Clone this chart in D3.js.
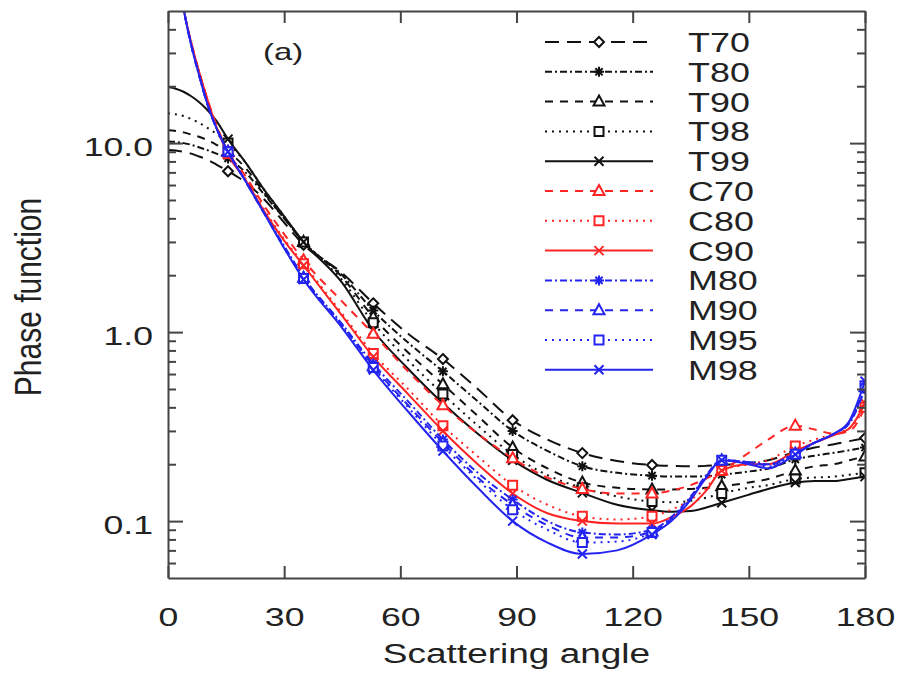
<!DOCTYPE html>
<html><head><meta charset="utf-8">
<script src="https://cdn.jsdelivr.net/npm/d3@7"></script>
<style>body{margin:0;background:#fff}</style>
</head><body><svg id="c" width="900" height="677"></svg>
<script>
// ---- data ----
const angles = [0,2,4,6,8,10,12.5,15.5,20,25,30,35,45,53,62,71,80,89,98,107,116,125,130,135,139,143,150,155,162,167,172,176,180];
const markerAngles = [15.5,35,53,71,89,107,125,143,162,180];
const T70 = [9.2,9.15,9.0,8.8,8.5,8.2,7.7,7.1,6.2,5.0,3.8,2.9,2.05,1.42,0.98,0.72,0.5,0.342,0.27,0.229,0.208,0.198,0.196,0.195,0.196,0.198,0.203,0.21,0.232,0.245,0.255,0.265,0.275];
const T80 = [10.2,10.15,10.0,9.8,9.5,9.2,8.8,8.3,7.0,5.3,4.0,3.0,2.0,1.3,0.88,0.62,0.43,0.30,0.235,0.195,0.18,0.174,0.172,0.172,0.173,0.176,0.183,0.19,0.212,0.222,0.23,0.237,0.245];
const T90 = [11.7,11.6,11.4,11.1,10.8,10.4,9.8,9.0,7.4,5.4,4.0,3.0,1.95,1.2,0.78,0.53,0.36,0.245,0.19,0.16,0.15,0.147,0.147,0.148,0.15,0.153,0.16,0.167,0.185,0.195,0.2,0.21,0.22];
const T98 = [14.4,14.2,13.9,13.4,12.8,12.1,11.2,10.0,7.9,5.6,4.1,3.0,1.88,1.12,0.71,0.47,0.32,0.225,0.175,0.15,0.135,0.127,0.126,0.128,0.133,0.14,0.15,0.155,0.167,0.17,0.172,0.176,0.18];
const T99 = [19.8,19.4,18.7,17.7,16.5,15.1,13.1,10.5,7.9,5.6,4.1,3.0,1.82,1.02,0.64,0.42,0.29,0.21,0.165,0.141,0.122,0.114,0.112,0.113,0.118,0.125,0.138,0.148,0.16,0.163,0.163,0.167,0.172];
const C70 = [200,100,52,34,24,17.5,12.5,9.0,6.7,4.6,3.3,2.4,1.45,0.98,0.62,0.41,0.29,0.215,0.17,0.148,0.14,0.14,0.145,0.155,0.168,0.185,0.23,0.27,0.32,0.305,0.29,0.3,0.4];
const C80 = [200,100,52,34,24,17.5,12.3,8.8,6.5,4.4,3.1,2.3,1.25,0.77,0.5,0.32,0.22,0.155,0.122,0.106,0.102,0.106,0.115,0.13,0.15,0.185,0.2,0.21,0.25,0.27,0.29,0.31,0.4];
const C90 = [200,100,52,34,24,17.5,12.2,8.7,6.4,4.3,3.05,2.25,1.22,0.74,0.47,0.30,0.2,0.14,0.11,0.1,0.097,0.097,0.105,0.12,0.145,0.185,0.2,0.2,0.235,0.26,0.285,0.31,0.42];
const M80 = [200,100,52,33,23,16.5,12,9.0,6.3,4.2,2.85,1.96,1.1,0.68,0.43,0.27,0.18,0.13,0.1,0.087,0.085,0.09,0.105,0.135,0.175,0.21,0.205,0.2,0.23,0.26,0.29,0.33,0.5];
const M90 = [200,100,52,33,23,16.5,12,9.0,6.3,4.2,2.83,1.94,1.09,0.66,0.41,0.26,0.17,0.122,0.095,0.082,0.082,0.088,0.103,0.133,0.173,0.21,0.205,0.198,0.228,0.26,0.29,0.335,0.51];
const M95 = [200,100,52,33,23,16.5,12,9.0,6.3,4.2,2.8,1.92,1.07,0.65,0.4,0.25,0.165,0.115,0.09,0.077,0.078,0.087,0.102,0.132,0.172,0.21,0.203,0.195,0.226,0.26,0.29,0.335,0.52];
const M98 = [200,100,52,33,23,16.5,12,9.0,6.3,4.2,2.78,1.9,1.05,0.63,0.38,0.235,0.15,0.1,0.077,0.067,0.07,0.085,0.1,0.13,0.17,0.21,0.2,0.19,0.225,0.26,0.29,0.34,0.55];
const seriesNames = ["T70","T80","T90","T98","T99","C70","C80","C90","M80","M90","M95","M98"];
const xTicks = [0,30,60,90,120,150,180];
const yTicks = [0.1,1,10];
const yTickLabels = ["0.1","1.0","10.0"];
const yMinor = [0.06,0.07,0.08,0.09,0.2,0.3,0.4,0.5,0.6,0.7,0.8,0.9,2,3,4,5,6,7,8,9,20,30,40];
const xLabel = "Scattering angle";
const yLabel = "Phase function";
const panelLabel = "(a)";

// ---- styles ----
const values = {T70,T80,T90,T98,T99,C70,C80,C90,M80,M90,M95,M98};
const BLACK="#111", RED="#ff2424", BLUE="#2424f0";
const styleOf = {
  T70:{c:BLACK,dash:"14,8",m:"diamond"},
  T80:{c:BLACK,dash:"7,3,2,3",m:"star"},
  T90:{c:BLACK,dash:"8,7",m:"tri"},
  T98:{c:BLACK,dash:"2,5",m:"square"},
  T99:{c:BLACK,dash:null,m:"x"},
  C70:{c:RED,dash:"8,7",m:"tri"},
  C80:{c:RED,dash:"2,5",m:"square"},
  C90:{c:RED,dash:null,m:"x"},
  M80:{c:BLUE,dash:"7,3,2,3",m:"star"},
  M90:{c:BLUE,dash:"8,7",m:"tri"},
  M95:{c:BLUE,dash:"2,5",m:"square"},
  M98:{c:BLUE,dash:null,m:"x"}
};
const markerPath = {
  diamond:"M0,-5L5,0L0,5L-5,0Z",
  square:"M-4.5,-4.5H4.5V4.5H-4.5Z",
  tri:"M0,-6L5.5,4L-5.5,4Z",
  x:"M-4.5,-4.5L4.5,4.5M4.5,-4.5L-4.5,4.5",
  star:"M-5,0H5M0,-5V5M-3.6,-3.6L3.6,3.6M3.6,-3.6L-3.6,3.6"
};
const FONT="'Liberation Sans', Arial, Helvetica, sans-serif";
const TXT="#222";
const SX=1.37;

const L=168,R=865,T=11,B=578;
const svg=d3.select("#c");
const x=d3.scaleLinear().domain([0,180]).range([L,R]);
const y=d3.scaleLog().domain([0.05,50]).range([B,T]);

svg.append("defs").append("clipPath").attr("id","clip")
  .append("rect").attr("x",L).attr("y",T).attr("width",R-L).attr("height",B-T);

const line=d3.line().x(d=>x(d[0])).y(d=>y(d[1])).curve(d3.curveMonotoneX);
const plot=svg.append("g").attr("clip-path","url(#clip)");

seriesNames.forEach(name=>{
  const st=styleOf[name];
  const pts=angles.map((a,i)=>[a,values[name][i]]);
  plot.append("path").datum(pts).attr("d",line).attr("fill","none")
    .attr("stroke",st.c).attr("stroke-width",2)
    .attr("stroke-dasharray",st.dash);
  plot.selectAll(null).data(pts.filter(p=>markerAngles.includes(p[0]))).enter()
    .append("path").attr("d",markerPath[st.m])
    .attr("transform",p=>`translate(${x(p[0])},${y(p[1])})`)
    .attr("fill",st.m==="x"||st.m==="star"?"none":"white")
    .attr("stroke",st.c).attr("stroke-width",2);
});

// ---- axes ----
function styleAxis(g){
  g.select(".domain").attr("stroke","#444").attr("stroke-width",2);
  g.selectAll(".tick line").attr("stroke","#444").attr("stroke-width",2);
}
const gL=svg.append("g").attr("transform",`translate(${L},0)`)
  .call(d3.axisLeft(y).tickValues(yTicks).tickFormat((d,i)=>yTickLabels[i]).tickSizeInner(-15).tickSizeOuter(0));
styleAxis(gL);
gL.selectAll("text").attr("font-family",FONT).attr("font-size",26).attr("fill",TXT)
  .attr("x",-15/SX).attr("dy","0.47em").attr("transform",`scale(${SX},1)`);
const gLm=svg.append("g").attr("transform",`translate(${L},0)`)
  .call(d3.axisLeft(y).tickValues(yMinor).tickFormat("").tickSizeInner(-8).tickSizeOuter(0));
styleAxis(gLm); gLm.select(".domain").remove();

const gR=svg.append("g").attr("transform",`translate(${R},0)`)
  .call(d3.axisRight(y).tickValues(yTicks).tickFormat("").tickSizeInner(-15).tickSizeOuter(0));
styleAxis(gR);
const gRm=svg.append("g").attr("transform",`translate(${R},0)`)
  .call(d3.axisRight(y).tickValues(yMinor).tickFormat("").tickSizeInner(-8).tickSizeOuter(0));
styleAxis(gRm); gRm.select(".domain").remove();

const gB=svg.append("g").attr("transform",`translate(0,${B})`)
  .call(d3.axisBottom(x).tickValues(xTicks).tickSizeInner(-12).tickSizeOuter(0));
styleAxis(gB);
gB.selectAll("text").attr("font-family",FONT).attr("font-size",26).attr("fill",TXT)
  .attr("y",30).attr("transform",`scale(${SX},1)`);
const gT=svg.append("g").attr("transform",`translate(0,${T})`)
  .call(d3.axisTop(x).tickValues(xTicks).tickFormat("").tickSizeInner(-12).tickSizeOuter(0));
styleAxis(gT);

// axis titles
svg.append("text").attr("transform",`translate(${(L+R)/2},663) scale(${SX},1)`)
  .attr("text-anchor","middle").attr("font-family",FONT).attr("font-size",27).attr("fill",TXT).text(xLabel);
svg.append("text").attr("transform",`translate(41,297) scale(1.2,1) rotate(-90)`)
  .attr("text-anchor","middle").attr("font-family",FONT).attr("font-size",30).attr("fill",TXT).text(yLabel);
svg.append("text").attr("transform",`translate(263,60) scale(${SX},1)`)
  .attr("font-family",FONT).attr("font-size",24).attr("fill",TXT).text(panelLabel);

// ---- legend ----
const lg=svg.append("g");
seriesNames.forEach((name,i)=>{
  const st=styleOf[name];
  const yy=42+i*29.8;
  lg.append("line").attr("x1",545).attr("x2",653).attr("y1",yy).attr("y2",yy)
    .attr("stroke",st.c).attr("stroke-width",2).attr("stroke-dasharray",st.dash);
  lg.append("path").attr("d",markerPath[st.m]).attr("transform",`translate(599,${yy})`)
    .attr("fill",st.m==="x"||st.m==="star"?"none":"white").attr("stroke",st.c).attr("stroke-width",2);
  lg.append("text").attr("transform",`translate(688,${yy+10}) scale(1.33,1)`)
    .attr("font-family",FONT).attr("font-size",27).attr("fill",TXT).text(name);
});
</script></body></html>
